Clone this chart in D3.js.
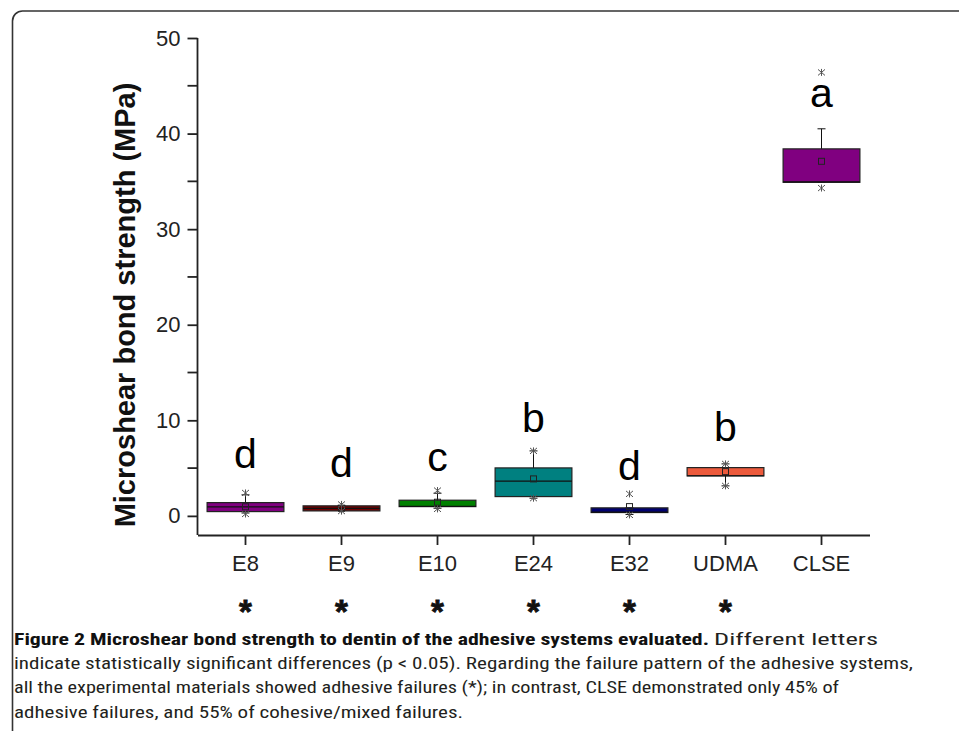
<!doctype html>
<html lang="en">
<head>
    <meta charset="utf-8">
    <title>Microshear bond strength</title>
<style>
body {
margin: 0;
background: #fff;
font-family: "Liberation Sans", Arial, Helvetica, sans-serif;
}
</style>
</head>

<body>
    <div id="chart"></div>
</body>

<script src="https://cdnjs.cloudflare.com/ajax/libs/d3/7.8.5/d3.min.js"></script>
<script>
// box plot values (MPa)
var categories = ["E8", "E9", "E10", "E24", "E32", "UDMA", "CLSE"];
var q1 =        [0.45, 0.52, 0.97, 2.02, 0.35, 4.18, 34.9];
var median =    [0.94, 0.78, 1.00, 3.63, 0.40, 4.20, 34.95];
var q3 =        [1.39, 1.05, 1.64, 5.02, 0.84, 5.05, 38.4];
var mean =      [0.95, 0.80, 1.43, 3.87, 0.97, 4.63, 37.1];
var whiskLow =  [0.30, 0.60, 0.80, 1.85, 0.15, 3.14, 34.9];
var whiskHigh = [2.20, 1.10, 2.37, 6.80, 0.84, 5.44, 40.5];
var minVals =   [0.20, 0.50, 0.73, 1.85, 0.10, 3.14, 34.3];
var maxVals =   [2.40, 1.20, 2.65, 6.80, 2.30, 5.44, 46.4];
var letters =   ["d", "d", "c", "b", "d", "b", "a"];
var letterAt =  [5.0, 4.06, 4.66, 8.82, 3.71, 7.84, 42.8];
var adhesiveOnly = [true, true, true, true, true, true, false];
var yTicks = [0, 10, 20, 30, 40, 50];
var yMinorTicks = [5, 15, 25, 35, 45];
var boxColors = ["#800080", "#6e0000", "#008000", "#008080", "#000070", "#ec5a3c", "#800080"];

var caption = [
    {bold: "Figure 2 Microshear bond strength to dentin of the adhesive systems evaluated.", rest: "Different letters"},
    {bold: "", rest: "indicate statistically significant differences (p < 0.05). Regarding the failure pattern of the adhesive systems,"},
    {bold: "", rest: "all the experimental materials showed adhesive failures (*); in contrast, CLSE demonstrated only 45% of"},
    {bold: "", rest: "adhesive failures, and 55% of cohesive/mixed failures."}
];
var captionWidths = [[695, 164], [899], [825], [449]];

var W = 959, H = 731;
var svg = d3.select("#chart").append("svg")
    .attr("width", W)
    .attr("height", H);

// figure frame
svg.append("path")
    .attr("d", "M12.5," + H + "V21A10,10 0 0 1 22.5,11H" + W)
    .attr("fill", "none")
    .attr("stroke", "#333")
    .attr("stroke-width", 1.6);

var x = d3.scaleBand()
    .domain(categories)
    .range([197.5, 869.5]);

var y = d3.scaleLinear()
    .domain([-2, 50])
    .range([535, 38]);

var bw = x.bandwidth() * 0.8;

// axes
var yAxis = svg.append("g")
    .attr("transform", "translate(197.5,0)")
    .call(d3.axisLeft(y).tickValues(yTicks).tickSize(10).tickPadding(7).tickSizeOuter(0));
yAxis.select(".domain").attr("d", "M0," + y(50) + "V" + y(-2));
yAxis.selectAll(".minor")
    .data(yMinorTicks)
    .enter().append("line")
    .attr("class", "minor")
    .attr("x1", -10).attr("x2", 0)
    .attr("y1", function(d) { return y(d); })
    .attr("y2", function(d) { return y(d); });

var xAxis = svg.append("g")
    .attr("transform", "translate(0,535)")
    .call(d3.axisBottom(x).tickSize(10).tickPadding(10).tickSizeOuter(0));

svg.selectAll(".domain, .tick line, .minor")
    .attr("stroke", "#222")
    .attr("stroke-width", 1.8);
svg.selectAll(".tick text")
    .attr("font-family", "'Liberation Sans', Arial, sans-serif")
    .attr("font-size", 22)
    .attr("fill", "#222");

// y axis title
svg.append("text")
    .attr("transform", "translate(135,305) rotate(-90)")
    .attr("text-anchor", "middle")
    .attr("font-size", 29)
    .attr("font-weight", "bold")
    .attr("fill", "#111")
    .text("Microshear bond strength (MPa)");

var idx = d3.range(categories.length);
var boxes = svg.append("g").selectAll("g")
    .data(idx)
    .enter().append("g")
    .attr("transform", function(i) { return "translate(" + (x(categories[i]) + x.bandwidth() / 2) + ",0)"; });

// whiskers
boxes.append("line")
    .attr("y1", function(i) { return y(whiskLow[i]); })
    .attr("y2", function(i) { return y(whiskHigh[i]); })
    .attr("stroke", "#111");
boxes.append("line")
    .attr("x1", -4).attr("x2", 4)
    .attr("y1", function(i) { return y(whiskHigh[i]); })
    .attr("y2", function(i) { return y(whiskHigh[i]); })
    .attr("stroke", "#111");
boxes.append("line")
    .attr("x1", -4).attr("x2", 4)
    .attr("y1", function(i) { return y(whiskLow[i]); })
    .attr("y2", function(i) { return y(whiskLow[i]); })
    .attr("stroke", "#111");

boxes.append("rect")
    .attr("x", -bw / 2)
    .attr("width", bw)
    .attr("y", function(i) { return y(q3[i]); })
    .attr("height", function(i) { return y(q1[i]) - y(q3[i]); })
    .attr("fill", function(i) { return boxColors[i]; })
    .attr("stroke", "#222")
    .attr("stroke-width", 1.2);

boxes.append("line")
    .attr("x1", -bw / 2).attr("x2", bw / 2)
    .attr("y1", function(i) { return y(median[i]); })
    .attr("y2", function(i) { return y(median[i]); })
    .attr("stroke", "#111")
    .attr("stroke-width", 1.2);

// mean
boxes.append("rect")
    .attr("x", -3).attr("width", 6).attr("height", 6)
    .attr("y", function(i) { return y(mean[i]) - 3; })
    .attr("fill", "none")
    .attr("stroke", "#222");

// min / max crosses
function cross(g, arr) {
    g.append("path")
        .attr("d", function(i) {
            var cy = y(arr[i]);
            return "M-3.5," + (cy - 3) + "L3.5," + (cy + 3) + "M-3.5," + (cy + 3) + "L3.5," + (cy - 3) + "M0," + (cy - 3.5) + "V" + (cy + 3.5);
        })
        .attr("stroke", "#555")
        .attr("stroke-width", 1);
}
cross(boxes, minVals);
cross(boxes, maxVals);

// significance letters
boxes.append("text")
    .attr("y", function(i) { return y(letterAt[i]); })
    .attr("text-anchor", "middle")
    .attr("font-size", 41)
    .attr("fill", "#000")
    .text(function(i) { return letters[i]; });

// failure pattern asterisks
boxes.filter(function(i) { return adhesiveOnly[i]; })
    .append("text")
    .attr("y", 622.5)
    .attr("text-anchor", "middle")
    .attr("font-size", 33)
    .attr("font-weight", "bold")
    .attr("fill", "#111")
    .attr("stroke", "#111")
    .attr("stroke-width", 0.8)
    .text("*");

// caption
var capFont = "'Liberation Sans Narrow', 'Roboto Condensed', 'Liberation Sans', sans-serif";
caption.forEach(function(line, k) {
    var by = 645 + k * 24.2;
    var xPos = 14;
    if (line.bold) {
        svg.append("text")
            .attr("x", xPos).attr("y", by)
            .attr("font-family", capFont)
            .attr("font-size", 17)
            .attr("font-weight", "bold")
            .attr("fill", "#111")
            .attr("textLength", captionWidths[k][0])
            .attr("lengthAdjust", "spacingAndGlyphs")
            .text(line.bold);
        xPos += captionWidths[k][0] + 5;
    }
    svg.append("text")
        .attr("x", xPos).attr("y", by)
        .attr("font-family", capFont)
        .attr("font-size", 17)
        .attr("fill", "#231f20")
        .attr("textLength", captionWidths[k][line.bold ? 1 : 0])
        .attr("lengthAdjust", "spacingAndGlyphs")
        .text(line.rest);
});
</script>
</html>
